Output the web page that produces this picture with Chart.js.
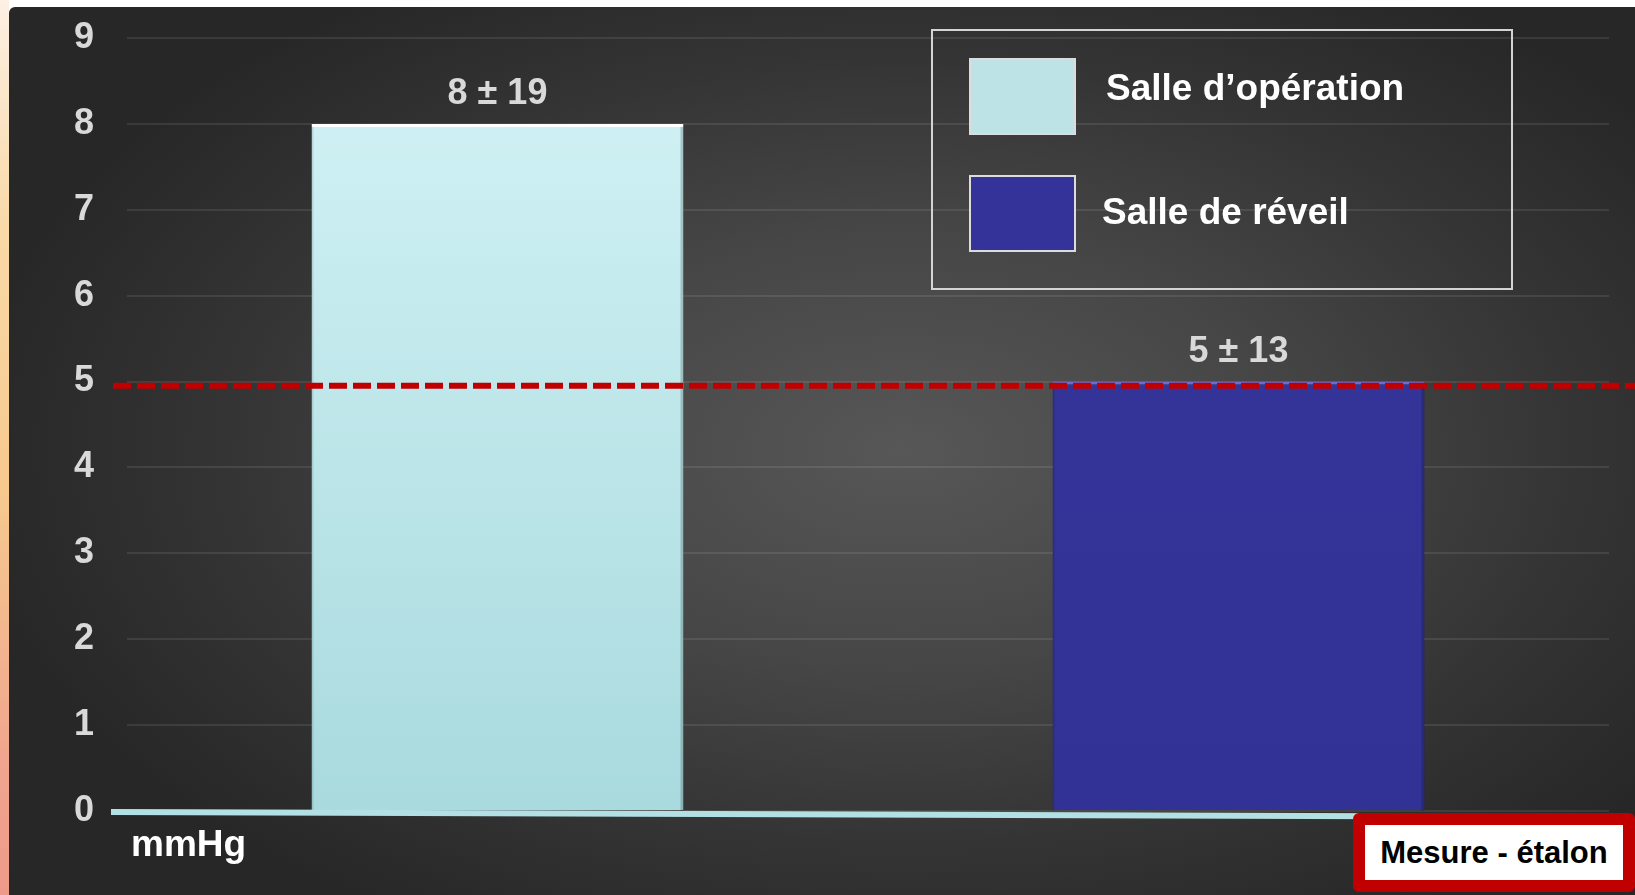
<!DOCTYPE html>
<html lang="fr">
<head>
<meta charset="utf-8">
<title>Mesure - étalon</title>
<script src="https://cdn.jsdelivr.net/npm/chart.js@4.4.1/dist/chart.umd.min.js"></script>
<style>
    html, body { margin: 0; padding: 0; background: #ffffff; }
    body { width: 1635px; height: 895px; position: relative; overflow: hidden;
           font-family: 'Liberation Sans', Arial, sans-serif; }
    .edge { position: absolute; left: 0; top: 0; width: 9px; height: 895px;
            background: linear-gradient(180deg, #fdf0e4 0%, #f9d9a8 25%, #f6c98e 55%, #f0a58e 85%, #ee9a8a 100%); }
    .panel { position: absolute; left: 9px; top: 7px; right: 0; bottom: 0;
             border-top-left-radius: 6px;
             background: radial-gradient(ellipse 58% 62% at 55% 50%, #575757 0%, #464646 40%, #343434 72%, #272727 100%); }
    .wrap { position: absolute; left: 0; top: 0; width: 1635px; height: 895px; }
    .legend { position: absolute; left: 931px; top: 29px; width: 578px; height: 257px;
              border: 2px solid #d4d4d4; }
    .legend .swatch { position: absolute; left: 36px; width: 103px; height: 73px; border: 2px solid #dcdcdc; }
    .legend .name { position: absolute; color: #ffffff; font-weight: bold; font-size: 37px;
                    line-height: 37px; white-space: nowrap; }
    .unit { position: absolute; left: 131px; top: 826px; color: #ffffff; font-weight: bold;
            font-size: 37px; line-height: 36px; }
    .etalon { position: absolute; left: 1353px; top: 813px; width: 258px; height: 55px;
              border: 12px solid #c00000; border-radius: 6px; background: #ffffff;
              color: #000000; font-weight: bold; font-size: 31px;
              display: flex; align-items: center; justify-content: center; }
</style>
</head>
<body>
<div class="edge"></div>
<div class="panel"></div>
<div class="wrap"><canvas id="chart"></canvas></div>
<div class="legend" id="legend"></div>
<div class="unit">mmHg</div>
<div class="etalon">Mesure - étalon</div>

<script>
// ── Données ─────────────────────────────────────────────────
const categories = ['Salle d’opération', 'Salle de réveil'];
const meanValues = [8, 5];
const sdValues = [19, 13];
const etalonLevel = [4.95];
const yTickValues = [0, 1, 2, 3, 4, 5, 6, 7, 8, 9];

// ── Couleurs ────────────────────────────────────────────────
const SERIES_COLORS = [
    { top: '#d3f3f6', bottom: '#a9dade', edge: '#ffffff', swatch: '#bde3e6' },
    { top: '#34349b', bottom: '#323296', edge: '#6a6ad8', swatch: '#333399' },
];

Chart.defaults.font.family = "'Liberation Sans', Arial, sans-serif";

// Légende encadrée : carrés de couleur + noms des salles
const legendEl = document.getElementById('legend');
const legendRows = [
    { swatchTop: 27, nameLeft: 173, nameTop: 38 },
    { swatchTop: 144, nameLeft: 169, nameTop: 162 },
];
categories.forEach((name, i) => {
    const sw = document.createElement('div');
    sw.className = 'swatch';
    sw.style.top = legendRows[i].swatchTop + 'px';
    sw.style.background = SERIES_COLORS[i].swatch;
    const lbl = document.createElement('div');
    lbl.className = 'name';
    lbl.style.left = legendRows[i].nameLeft + 'px';
    lbl.style.top = legendRows[i].nameTop + 'px';
    lbl.textContent = name;
    legendEl.append(sw, lbl);
});

function barGradient(ctx, i) {
    const area = ctx.chart.chartArea;
    if (!area) return SERIES_COLORS[i].top;
    const g = ctx.chart.ctx.createLinearGradient(0, area.top, 0, area.bottom);
    g.addColorStop(0, SERIES_COLORS[i].top);
    g.addColorStop(1, SERIES_COLORS[i].bottom);
    return g;
}

// Axe zéro cyan, ligne étalon et libellés « moyenne ± écart-type »
const overlayPlugin = {
    id: 'overlay',
    afterDatasetsDraw(chart) {
        const { ctx, chartArea, scales } = chart;
        const y0 = scales.y.getPixelForValue(0);

        ctx.save();
        // léger ombrage sur les côtés des barres
        chart.data.datasets.forEach((ds, i) => {
            const bar = chart.getDatasetMeta(i).data[i];
            const half = bar.width / 2;
            ctx.fillStyle = 'rgba(0, 0, 0, 0.18)';
            ctx.fillRect(bar.x + half - 3, bar.y + 3, 3, y0 - bar.y - 3);
            ctx.fillStyle = 'rgba(0, 0, 0, 0.10)';
            ctx.fillRect(bar.x - half, bar.y + 3, 2, y0 - bar.y - 3);
        });

        ctx.strokeStyle = '#b3e0e4';
        ctx.lineWidth = 6;
        ctx.beginPath();
        ctx.moveTo(chartArea.left - 16, y0 + 1);
        ctx.lineTo(chartArea.right, y0 + 6);
        ctx.stroke();

        const yRef = scales.y.getPixelForValue(etalonLevel[0]);
        ctx.strokeStyle = '#c00000';
        ctx.lineWidth = 6;
        ctx.setLineDash([18, 6]);
        ctx.beginPath();
        ctx.moveTo(chartArea.left - 14, yRef);
        ctx.lineTo(chart.width, yRef);
        ctx.stroke();
        ctx.setLineDash([]);

        ctx.fillStyle = '#d9d9d9';
        ctx.font = "bold 36px 'Liberation Sans', Arial, sans-serif";
        ctx.textAlign = 'center';
        ctx.textBaseline = 'alphabetic';
        chart.data.datasets.forEach((ds, i) => {
            const bar = chart.getDatasetMeta(i).data[i];
            ctx.fillText(`${meanValues[i]} ± ${sdValues[i]}`, bar.x, bar.y - 20);
        });
        ctx.restore();
    },
};

new Chart(document.getElementById('chart'), {
    type: 'bar',
    data: {
        labels: categories,
        datasets: categories.map((name, i) => ({
            label: name,
            data: categories.map((_, j) => (j === i ? meanValues[i] : null)),
            backgroundColor: ctx => barGradient(ctx, i),
            borderColor: SERIES_COLORS[i].edge,
            borderWidth: { top: 3, left: 0, right: 0, bottom: 0 },
            borderSkipped: false,
            skipNull: true,
            categoryPercentage: 1,
            barPercentage: 0.502,
        })),
    },
    options: {
        responsive: true,
        maintainAspectRatio: false,
        animation: false,
        layout: { padding: { top: 38, right: 26, bottom: 84, left: 74 } },
        plugins: {
            legend: { display: false },
            tooltip: { enabled: false },
        },
        scales: {
            x: { display: false },
            y: {
                min: yTickValues[0],
                max: yTickValues[yTickValues.length - 1],
                afterBuildTicks: scale => { scale.ticks = yTickValues.map(v => ({ value: v })); },
                afterFit: scale => { scale.width = 53; },
                border: { display: false },
                grid: { color: 'rgba(255, 255, 255, 0.09)', lineWidth: 2, drawTicks: false },
                ticks: {
                    color: '#d9d9d9',
                    padding: 0,
                    crossAlign: 'far',
                    font: { size: 36, weight: 'bold' },
                },
            },
        },
    },
    plugins: [overlayPlugin],
});
</script>
</body>
</html>
